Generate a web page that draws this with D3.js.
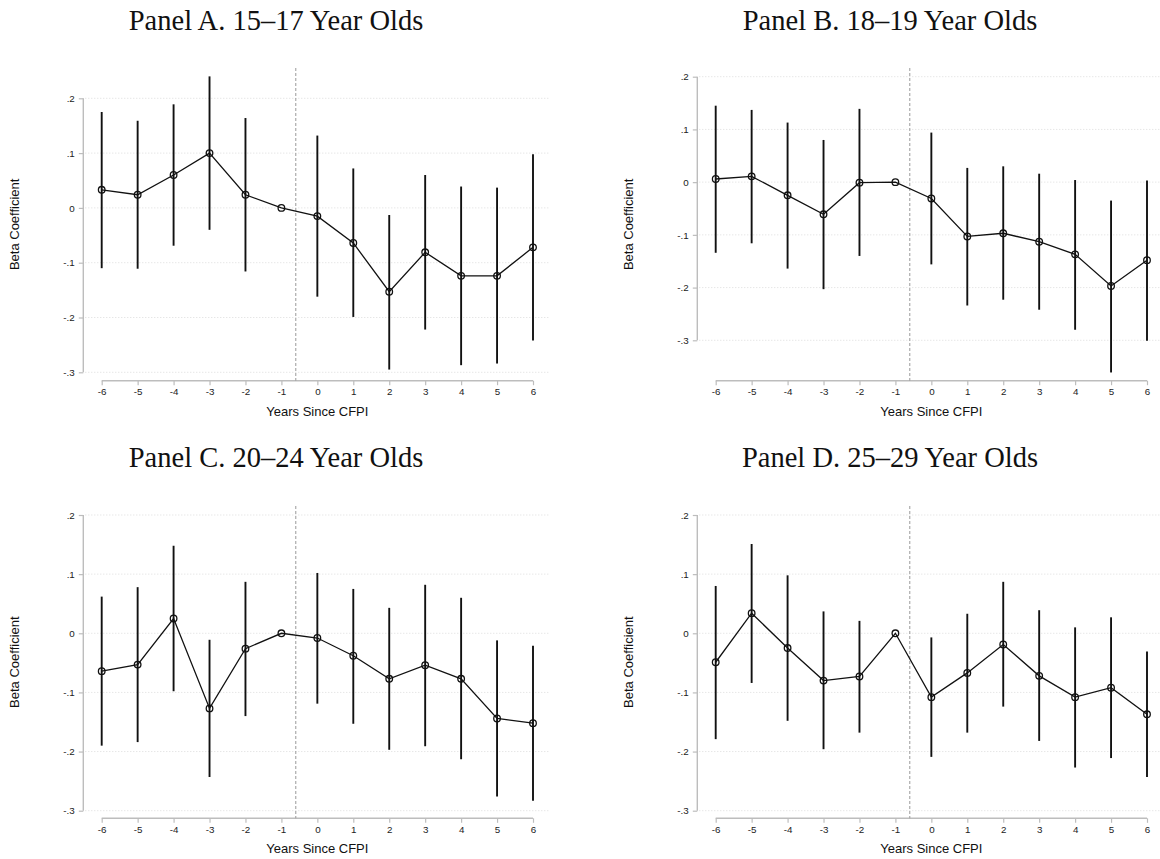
<!DOCTYPE html>
<html>
<head>
<meta charset="utf-8">
<script src="https://cdn.jsdelivr.net/npm/d3@7"></script>
<style>
  html, body { margin: 0; padding: 0; background: #fff; }
  svg { display: block; }
</style>
</head>
<body>
<svg id="chart" width="1160" height="859"></svg>
<script>
// Event-study coefficients by age group, years relative to CFPI
const years = [-6, -5, -4, -3, -2, -1, 0, 1, 2, 3, 4, 5, 6];

const panelTitles = [
  "Panel A. 15\u201317 Year Olds",
  "Panel B. 18\u201319 Year Olds",
  "Panel C. 20\u201324 Year Olds",
  "Panel D. 25\u201329 Year Olds"
];

// Point estimates (year -1 is the omitted reference year)
const betaA = [0.033, 0.024, 0.060, 0.100, 0.024, 0, -0.015, -0.064, -0.153, -0.081, -0.124, -0.124, -0.072];
const betaB = [0.006, 0.011, -0.025, -0.061, -0.001, 0, -0.031, -0.103, -0.097, -0.113, -0.137, -0.197, -0.148];
const betaC = [-0.064, -0.053, 0.025, -0.127, -0.026, 0, -0.008, -0.038, -0.077, -0.054, -0.077, -0.144, -0.152];
const betaD = [-0.049, 0.034, -0.025, -0.080, -0.073, 0, -0.108, -0.067, -0.019, -0.072, -0.108, -0.092, -0.137];

// 95% confidence bounds (null where no interval is shown)
const upperA = [0.175, 0.159, 0.189, 0.240, 0.164, null, 0.132, 0.072, -0.013, 0.060, 0.039, 0.037, 0.098];
const lowerA = [-0.110, -0.111, -0.069, -0.040, -0.116, null, -0.162, -0.199, -0.295, -0.222, -0.287, -0.284, -0.242];
const upperB = [0.145, 0.137, 0.113, 0.080, 0.139, null, 0.094, 0.027, 0.030, 0.016, 0.004, -0.035, 0.003];
const lowerB = [-0.134, -0.116, -0.164, -0.203, -0.140, null, -0.156, -0.234, -0.223, -0.242, -0.280, -0.361, -0.301];
const upperC = [0.062, 0.078, 0.148, -0.011, 0.087, null, 0.102, 0.075, 0.043, 0.082, 0.060, -0.012, -0.021];
const lowerC = [-0.190, -0.184, -0.098, -0.243, -0.140, null, -0.119, -0.153, -0.197, -0.191, -0.213, -0.276, -0.283];
const upperD = [0.080, 0.151, 0.098, 0.037, 0.021, null, -0.007, 0.033, 0.087, 0.039, 0.010, 0.027, -0.031];
const lowerD = [-0.179, -0.084, -0.148, -0.196, -0.168, null, -0.209, -0.168, -0.124, -0.182, -0.227, -0.211, -0.243];

// Axis ticks and labels
const yTicks = [0.2, 0.1, 0, -0.1, -0.2, -0.3];
const yTickLabels = [".2", ".1", "0", "-.1", "-.2", "-.3"];
const xTickLabels = ["-6", "-5", "-4", "-3", "-2", "-1", "0", "1", "2", "3", "4", "5", "6"];
const eventLine = -0.6;

const xTitle = "Years Since CFPI";
const yTitle = "Beta Coefficient";

const seriesBeta = [betaA, betaB, betaC, betaD];
const seriesUpper = [upperA, upperB, upperC, upperD];
const seriesLower = [lowerA, lowerB, lowerC, lowerD];

// Panel geometry: plot region plus the pixel rows of the top (.2) and bottom (-.3) ticks
const layout = [
  { left: 83.3,  right: 550,  top: 68,  bottom: 380.7, yTop: 98.3, yBot: 372.3, titleX: 276, titleY: 30 },
  { left: 697.3, right: 1164, top: 68,  bottom: 380.7, yTop: 76.7, yBot: 340.3, titleX: 890, titleY: 30 },
  { left: 83.3,  right: 550,  top: 506, bottom: 818.3, yTop: 515,  yBot: 810.7, titleX: 276, titleY: 467 },
  { left: 697.3, right: 1164, top: 506, bottom: 818.3, yTop: 515,  yBot: 810.7, titleX: 890, titleY: 467 }
];

const svg = d3.select("#chart");
const sans = "'Liberation Sans', Arial, sans-serif";
const serif = "'Liberation Serif', 'Times New Roman', serif";
const axisGray = "#bdbdbd";

layout.forEach((L, p) => {
  const g = svg.append("g");

  const x = d3.scaleLinear().domain([-6, 6]).range([L.left + 18.4, L.right - 17]);
  const y = d3.scaleLinear().domain([-0.3, 0.2]).range([L.yBot, L.yTop]);

  // Title
  g.append("text")
    .attr("x", L.titleX).attr("y", L.titleY)
    .attr("text-anchor", "middle")
    .style("font-family", serif).style("font-size", "28.5px").style("fill", "#111")
    .text(panelTitles[p]);

  // Horizontal dotted gridlines
  g.append("g").selectAll("line").data(yTicks).join("line")
    .attr("x1", L.left + 2).attr("x2", L.right)
    .attr("y1", d => y(d)).attr("y2", d => y(d))
    .attr("stroke", "#dcdcdc").attr("stroke-width", 1)
    .attr("stroke-dasharray", "1,2");

  // Y axis
  const yAxis = d3.axisLeft(y).tickValues(yTicks)
    .tickFormat((d, i) => yTickLabels[i]).tickSize(4.5).tickPadding(4);
  const ya = g.append("g").attr("transform", `translate(${L.left},0)`).call(yAxis);
  ya.select(".domain").attr("stroke", axisGray).attr("stroke-width", 1.4)
    .attr("d", `M0,${y(0.2)}V${y(-0.3)}`);
  ya.selectAll(".tick line").attr("stroke", axisGray).attr("stroke-width", 1.2);
  ya.selectAll(".tick text").style("font-family", sans).style("font-size", "9.8px").style("fill", "#222");

  // X axis
  const xAxis = d3.axisBottom(x).tickValues(years)
    .tickFormat((d, i) => xTickLabels[i]).tickSize(4.5).tickPadding(3);
  const xa = g.append("g").attr("transform", `translate(0,${L.bottom})`).call(xAxis);
  xa.select(".domain").attr("stroke", axisGray).attr("stroke-width", 1.4)
    .attr("d", `M${x(-6)},0H${x(6)}`);
  xa.selectAll(".tick line").attr("stroke", axisGray).attr("stroke-width", 1.2);
  xa.selectAll(".tick text").style("font-family", sans).style("font-size", "9.8px").style("fill", "#222");

  // Axis titles
  g.append("text")
    .attr("x", x(0)).attr("y", L.bottom + 35)
    .attr("text-anchor", "middle")
    .style("font-family", sans).style("font-size", "13px").style("fill", "#111")
    .text(xTitle);

  const yc = (L.top + L.bottom) / 2;
  const yx = L.left - 64;
  g.append("text")
    .attr("transform", `translate(${yx},${yc}) rotate(-90)`)
    .attr("text-anchor", "middle")
    .style("font-family", sans).style("font-size", "13px").style("fill", "#111")
    .text(yTitle);

  // Treatment-timing reference line
  g.append("line")
    .attr("x1", x(eventLine)).attr("x2", x(eventLine))
    .attr("y1", L.top).attr("y2", L.bottom)
    .attr("stroke", "#9a9a9a").attr("stroke-width", 1)
    .attr("stroke-dasharray", "3,2");

  const rows = years.map((yr, i) => ({
    yr, b: seriesBeta[p][i], hi: seriesUpper[p][i], lo: seriesLower[p][i]
  }));

  // Confidence intervals
  g.append("g").selectAll("line").data(rows.filter(r => r.hi !== null)).join("line")
    .attr("x1", r => x(r.yr)).attr("x2", r => x(r.yr))
    .attr("y1", r => y(r.hi)).attr("y2", r => y(r.lo))
    .attr("stroke", "#111").attr("stroke-width", 1.9);

  // Connecting line
  g.append("path").datum(rows)
    .attr("d", d3.line().x(r => x(r.yr)).y(r => y(r.b)))
    .attr("fill", "none").attr("stroke", "#111").attr("stroke-width", 1.3);

  // Hollow point markers
  g.append("g").selectAll("circle").data(rows).join("circle")
    .attr("cx", r => x(r.yr)).attr("cy", r => y(r.b)).attr("r", 3.3)
    .attr("fill", "none").attr("stroke", "#111").attr("stroke-width", 1.3);
});
</script>
</body>
</html>
